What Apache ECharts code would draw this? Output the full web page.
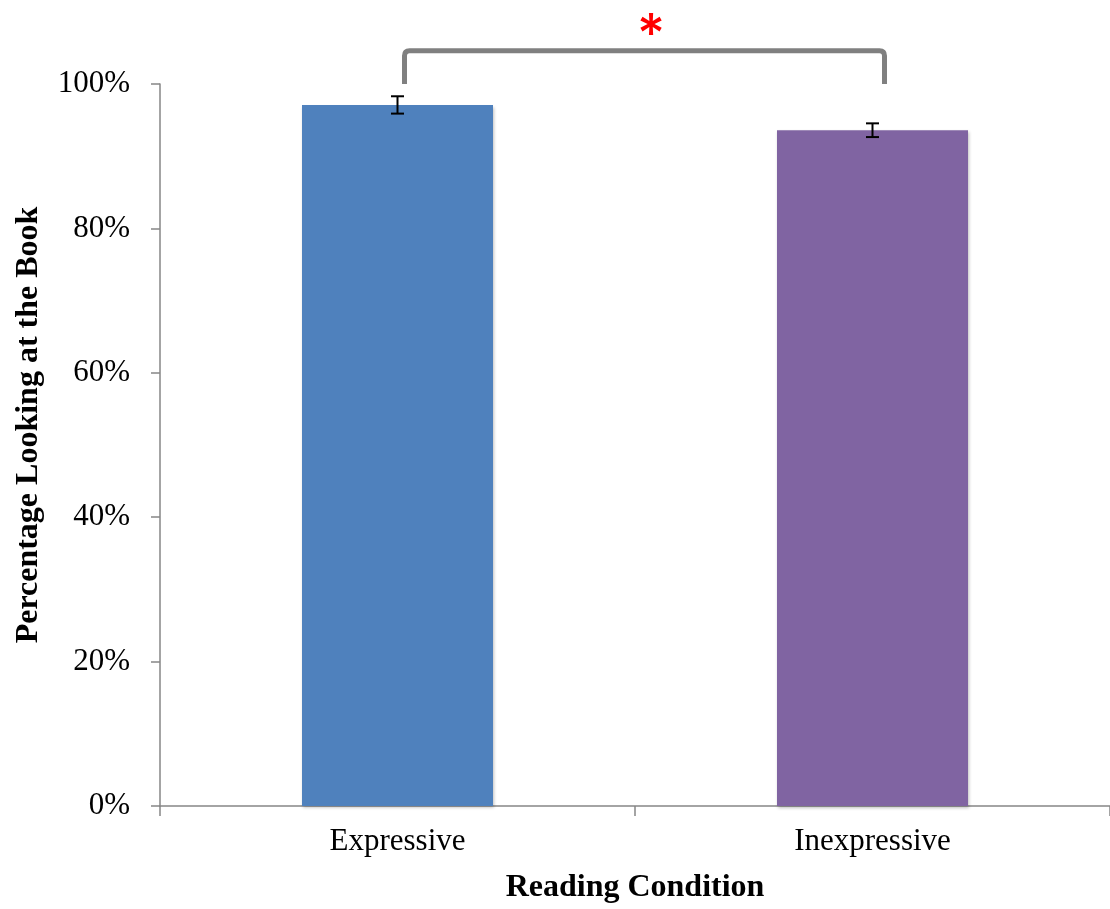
<!DOCTYPE html>
<html><head><meta charset="utf-8">
<script src="https://cdn.jsdelivr.net/npm/echarts@6/dist/echarts.min.js"></script>
<style>html,body{margin:0;padding:0;background:#fff}#c{width:1110px;height:909px}</style>
</head><body><div id="c"></div>
<script>
const categories = ['Expressive', 'Inexpressive'];
const values = [97.1, 93.6];
const errors = [1.2, 0.95];
const barColors = ['#4F81BD', '#8064A2'];
const yTicks = [0, 20, 40, 60, 80, 100];
const bracketLow = 100;
const bracketHigh = 104.6;
const sigLabel = '*';
const yTitle = 'Percentage Looking at the Book';
const xTitle = 'Reading Condition';

const chart = echarts.init(document.getElementById('c'));
const serif = '"Liberation Serif", "Times New Roman", serif';
chart.setOption({
  animation: false,
  grid: { left: 160, right: 0, top: 84, bottom: 103, outerBoundsMode: 'none', containLabel: false },
  graphic: [{
    type: 'text', x: 29, y: 425, rotation: Math.PI / 2,
    style: { text: yTitle, fontFamily: serif, fontWeight: 'bold', fontSize: 32, fill: '#000',
      align: 'center', verticalAlign: 'middle' }
  }],
  xAxis: {
    type: 'category', data: categories,
    name: xTitle, nameLocation: 'middle', nameGap: 66,
    nameTextStyle: { fontFamily: serif, fontWeight: 'bold', fontSize: 32, color: '#000' },
    axisLine: { lineStyle: { color: '#868686', width: 1.5 } },
    axisTick: { show: true, length: 10, lineStyle: { color: '#868686', width: 1.5 } },
    axisLabel: { fontFamily: serif, fontSize: 31, color: '#000', margin: 20 }
  },
  yAxis: {
    type: 'value', min: 0, max: 100, interval: 20,
    axisLine: { show: true, lineStyle: { color: '#868686', width: 1.5 } },
    axisTick: { show: true, inside: false, length: 9, lineStyle: { color: '#868686', width: 1.5 } },
    splitLine: { show: false },
    axisLabel: { fontFamily: serif, fontSize: 31, color: '#000', margin: 30,
      formatter: v => yTicks.includes(v) ? v + '%' : '' }
  },
  series: [
    {
      type: 'bar', barWidth: 191,
      data: values.map((v, i) => ({ value: v, itemStyle: { color: barColors[i] } })),
      itemStyle: { shadowColor: 'rgba(0,0,0,0.25)', shadowBlur: 3, shadowOffsetX: 1, shadowOffsetY: 2 },
      z: 2
    },
    {
      type: 'custom', z: 5,
      data: values.map((v, i) => [i, v - errors[i], v + errors[i]]),
      renderItem: (params, api) => {
        const lo = api.coord([api.value(0), api.value(1)]);
        const hi = api.coord([api.value(0), api.value(2)]);
        const x = lo[0], hw = 6.5;
        const st = { stroke: '#000', lineWidth: 2 };
        return { type: 'group', children: [
          { type: 'line', shape: { x1: x, y1: lo[1], x2: x, y2: hi[1] }, style: st },
          { type: 'line', shape: { x1: x - hw, y1: lo[1], x2: x + hw, y2: lo[1] }, style: st },
          { type: 'line', shape: { x1: x - hw, y1: hi[1], x2: x + hw, y2: hi[1] }, style: st }
        ]};
      }
    },
    {
      type: 'custom', z: 6, clip: false,
      data: [[0, 1, bracketLow, bracketHigh]],
      renderItem: (params, api) => {
        const a = api.coord([api.value(0), api.value(2)]);
        const b = api.coord([api.value(1), api.value(2)]);
        const t = api.coord([api.value(0), api.value(3)]);
        const x1 = a[0] + 7, x2 = b[0] + 12, yb = a[1], yt = t[1];
        const r = 5;
        const path = `M${x1},${yb} L${x1},${yt + r} Q${x1},${yt} ${x1 + r},${yt} L${x2 - r},${yt} Q${x2},${yt} ${x2},${yt + r} L${x2},${yb}`;
        return { type: 'group', children: [
          { type: 'path', shape: { pathData: path },
            style: { stroke: '#808080', lineWidth: 5, fill: null, lineJoin: 'round' } },
          { type: 'text', x: 651, y: yt - 15,
            style: { text: sigLabel, fill: '#FF0000', fontSize: 54, fontWeight: 500, fontFamily: 'Inter, "DejaVu Sans", sans-serif',
              align: 'center', verticalAlign: 'middle' } }
        ]};
      }
    }
  ]
});
</script></body></html>
